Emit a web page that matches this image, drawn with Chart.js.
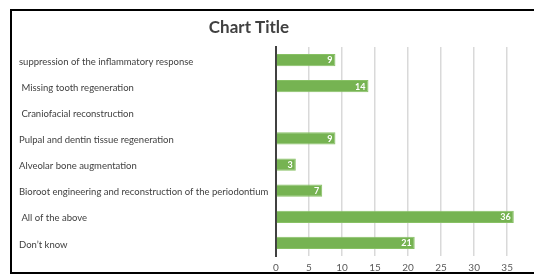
<!DOCTYPE html>
<html>
<head>
<meta charset="utf-8">
<script src="https://cdn.jsdelivr.net/npm/chart.js@4.4.1/dist/chart.umd.min.js"></script>
<style>
  html, body { margin: 0; padding: 0; background: #fff; overflow: hidden; }
  #frame {
    position: absolute;
    left: 10px;
    top: 9px;
    width: 560px;
    height: 261px;
    border-top: 2px solid #000;
    border-left: 2px solid #000;
    border-bottom: 2px solid #000;
  }
  #chart { display: block; }
</style>
</head>
<body>
<div id="frame"><canvas id="chart" width="540" height="261"></canvas></div>
<script>
const categories = [
  'suppression of the inflammatory response',
  ' Missing tooth regeneration',
  ' Craniofacial reconstruction',
  'Pulpal and dentin tissue regeneration',
  'Alveolar bone augmentation',
  'Bioroot engineering and reconstruction of the periodontium',
  ' All of the above',
  "Don\u2019t know"
];
const counts = [9, 14, null, 9, 3, 7, 36, 21];
const xTicks = [0, 5, 10, 15, 20, 25, 30, 35, 40];
const chartTitle = 'Chart Title';

const fontFamily = 'Lato, "Open Sans", sans-serif';

// white value labels at the end of each bar
const barValues = {
  id: 'barValues',
  afterDatasetsDraw(chart) {
    const ctx = chart.ctx;
    const meta = chart.getDatasetMeta(0);
    ctx.save();
    ctx.fillStyle = '#ffffff';
    ctx.font = 'bold 9px ' + fontFamily;
    ctx.textAlign = 'right';
    ctx.textBaseline = 'middle';
    meta.data.forEach((bar, i) => {
      const v = counts[i];
      if (v == null) return;
      ctx.fillText(String(v), bar.x - 3, bar.y + 0.5);
    });
    ctx.restore();
  }
};

// title drawn over the visible part of the frame
const titleText = {
  id: 'titleText',
  afterDraw(chart) {
    const ctx = chart.ctx;
    ctx.save();
    ctx.fillStyle = '#404040';
    ctx.font = 'bold 17px ' + fontFamily;
    ctx.textAlign = 'center';
    ctx.textBaseline = 'middle';
    ctx.fillText(chartTitle, 237, 16.5);
    ctx.restore();
  }
};

new Chart(document.getElementById('chart'), {
  type: 'bar',
  data: {
    labels: categories,
    datasets: [{
      data: counts,
      backgroundColor: '#76b352',
      borderColor: '#88c165',
      borderWidth: 1,
      borderSkipped: 'left',
      categoryPercentage: 1,
      barPercentage: 0.47
    }]
  },
  options: {
    indexAxis: 'y',
    responsive: false,
    animation: false,
    layout: { padding: { left: 7, right: 11, top: 36, bottom: 0 } },
    plugins: {
      legend: { display: false },
      tooltip: { enabled: false },
      title: { display: false }
    },
    scales: {
      x: {
        min: 0,
        max: 40,
        afterBuildTicks: (scale) => { scale.ticks = xTicks.map(v => ({ value: v })); },
        afterFit: (scale) => { scale.height = 16; },
        grid: { color: '#d9d9d9', lineWidth: 1.5, drawTicks: false },
        border: { display: false },
        ticks: {
          color: '#595959',
          padding: 6,
          font: { family: fontFamily, size: 10 }
        }
      },
      y: {
        afterFit: (scale) => { scale.width = 257; },
        grid: { display: false, drawTicks: false },
        border: { display: true, color: '#404040', width: 2 },
        ticks: {
          crossAlign: 'far',
          color: '#404040',
          padding: 8,
          labelOffset: 1.5,
          font: { family: fontFamily, size: 9.5 }
        }
      }
    }
  },
  plugins: [barValues, titleText]
});
</script>
</body>
</html>
